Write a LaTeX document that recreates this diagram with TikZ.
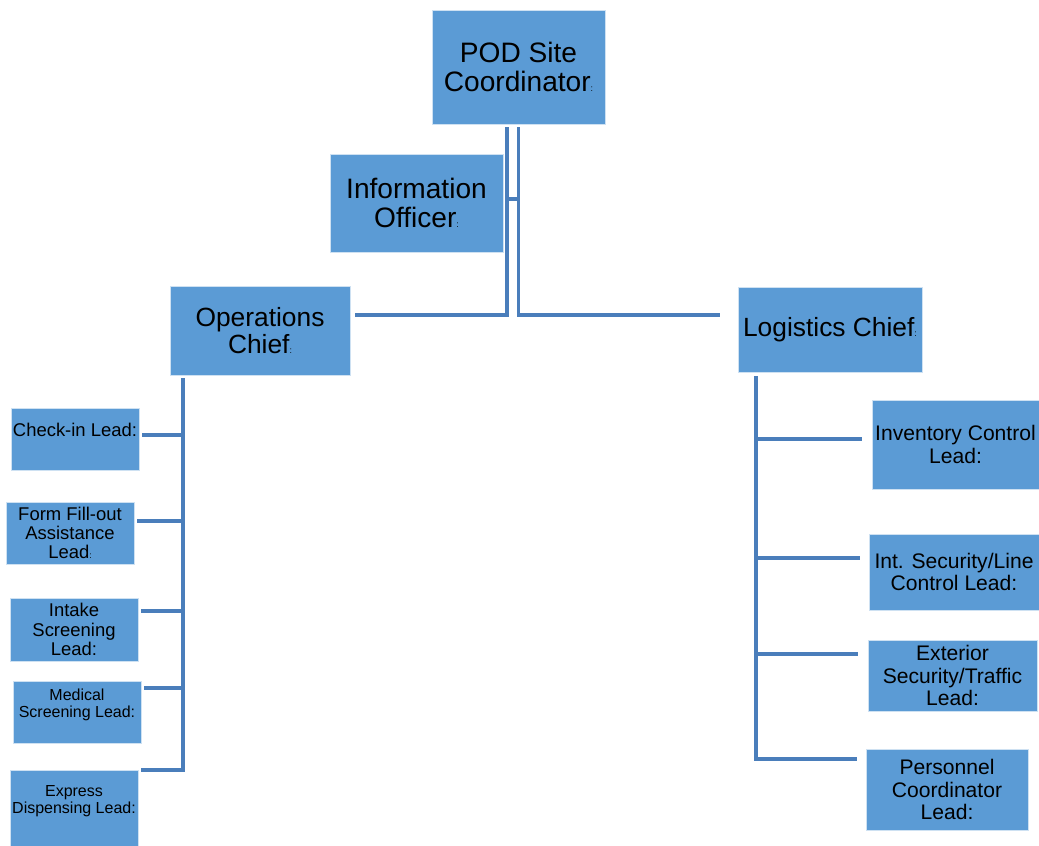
\documentclass[tikz,border=0pt]{standalone}
\usepackage{fontspec}
\setmainfont{Liberation Sans}
\usepackage{xcolor}
\usepackage{tikz}
\usetikzlibrary{positioning,calc}

\definecolor{boxblue}{HTML}{5B9BD5}
\definecolor{linkblue}{HTML}{4A7EBB}
\newcommand{\smallcolon}{{\fontsize{5}{5}\selectfont:}}

\begin{document}
\begin{tikzpicture}[
  x=0.02cm, y=-0.02cm,
  role/.style 2 args={draw=boxblue!30!white, line width=0.4pt, fill=boxblue,
    inner sep=0pt, align=center, text=black,
    minimum width=#1*0.02cm, minimum height=#2*0.02cm},
  link/.style={draw=linkblue, line width=2pt},
  huge/.style={font=\fontsize{16}{17}\selectfont},
  large/.style={font=\fontsize{15}{15.5}\selectfont},
  mid/.style={font=\fontsize{12}{12.7}\selectfont},
  small/.style={font=\fontsize{10.5}{10.9}\selectfont},
  tiny/.style={font=\fontsize{9.1}{9.7}\selectfont},
]
\useasboundingbox (0,0) rectangle (1039,846);

% --- Top: coordinator and information officer
\node[role={173}{114}, huge] (pod) at (518.5,67) {POD Site\\Coordinator\smallcolon};
\node[role={173}{98}, huge] (info) at (416.5,203) {Information\\Officer\smallcolon};

% --- Chiefs
\node[role={180}{89}, large] (ops) at (260,330.5) {Operations\\Chief\smallcolon};
\node[role={184}{85}, large] (log) at (830,329.5) {Logistics Chief\smallcolon};

% --- Operations leads
\node[role={128}{62}, small] (chk) at (75,439) {Check-in Lead:\\\mbox{}};
\node[role={128}{62}, small] (form) at (70,533) {Form Fill-out\\Assistance\\Lead\smallcolon};
\node[role={128}{63}, small] (intake) at (74,629.5) {Intake\\Screening\\Lead:};
\node[role={128}{62}, tiny] (med) at (77,712) {Medical\\Screening Lead:\\\mbox{}};
\node[role={128}{76}, tiny] (expr) at (74,808) {Express\\Dispensing Lead:\\\mbox{}};

% --- Logistics leads
\node[role={167}{89}, mid] (inv) at (955.5,444.5) {Inventory Control\\Lead:};
\node[role={170}{76}, mid] (intsec) at (954,572) {Int. Security/Line\\Control Lead:};
\node[role={169}{71}, mid] (extsec) at (952.5,675.5) {Exterior\\Security/Traffic\\Lead:};
\node[role={162}{81}, mid] (pers) at (947,789.5) {Personnel\\Coordinator\\Lead:};

% --- Top connectors
\draw[link] ([shift={(-11.5,3)}]pod.south) |- ([shift={(5,-15.5)}]ops.east);
\draw[link] ([shift={(0,3)}]pod.south) |- ([shift={(-18,-14.5)}]log.west);
\draw[link] ([shift={(5,-4)}]info.east) -- ++(10,0);

% --- Operations bus
\coordinate (opsbus) at ([shift={(-77,3)}]ops.south);
\draw[link] (opsbus) |- ([shift={(3,-38)}]expr.east);
\foreach \n/\dy in {chk/-4, form/-12, intake/-18.5, med/-24}
  \draw[link] ([shift={(3,\dy)}]\n.east) coordinate (tip) -- (tip -| opsbus);

% --- Logistics bus
\coordinate (logbus) at ([shift={(-74,4)}]log.south);
\draw[link] (logbus) |- ([shift={(-9,-30.5)}]pers.west);
\foreach \n/\dx/\dy in {inv/-10/-5.5, intsec/-9/-14, extsec/-10/-21.5}
  \draw[link] ([shift={(\dx,\dy)}]\n.west) coordinate (tip) -- (tip -| logbus);
\end{tikzpicture}
\end{document}
